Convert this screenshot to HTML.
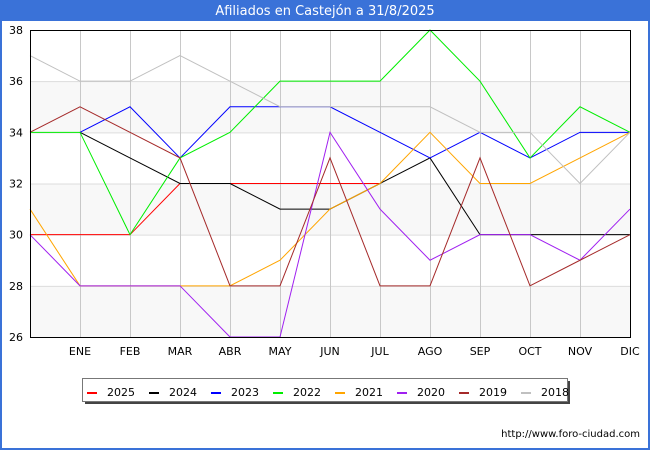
<!DOCTYPE html>
<html><head><meta charset="utf-8"><style>
html,body{margin:0;padding:0;background:#fff;}
body{width:650px;height:450px;overflow:hidden;font-family:"Liberation Sans","DejaVu Sans",sans-serif;}
</style></head><body>
<svg id="chart" width="650" height="450" xmlns="http://www.w3.org/2000/svg" style="display:block">
<rect x="1" y="0" width="648" height="449" fill="#fff" stroke="#3a72d8" stroke-width="2"/>
<rect x="0" y="0" width="650" height="21" fill="#3a72d8"/>
<text x="325" y="15" text-anchor="middle" font-size="13" fill="#fff" font-family="DejaVu Sans, sans-serif">Afiliados en Castejón a 31/8/2025</text>
<g id="grid"></g>
<g id="series"></g>
<rect x="30.5" y="30.5" width="600" height="307" fill="none" stroke="#000" stroke-width="1"/>
<g id="axes" font-size="11" font-family="DejaVu Sans, sans-serif" fill="#000"></g>
<g id="legend"></g>
<text x="640" y="437" text-anchor="end" font-size="10" font-family="DejaVu Sans, sans-serif">http://www.foro-ciudad.com</text>
</svg>
<script>
const categories = ["", "ENE","FEB","MAR","ABR","MAY","JUN","JUL","AGO","SEP","OCT","NOV","DIC"];
const yTicks = [26,28,30,32,34,36,38];
const years = ["2025","2024","2023","2022","2021","2020","2019","2018"];
const colors = ["#ff0000","#000000","#0000ff","#00ee00","#ffa500","#a020f0","#a52a2a","#c0c0c0"];
const s2025 = [30,30,30,32,32,32,32,32,null,null,null,null,null];
const s2024 = [null,34,33,32,32,31,31,32,33,30,30,30,30];
const s2023 = [null,34,35,33,35,35,35,34,33,34,33,34,34];
const s2022 = [34,34,30,33,34,36,36,36,38,36,33,35,34];
const s2021 = [31,28,28,28,28,29,31,32,34,32,32,33,34];
const s2020 = [30,28,28,28,26,26,34,31,29,30,30,29,31];
const s2019 = [34,35,34,33,28,28,33,28,28,33,28,29,30];
const s2018 = [37,36,36,37,36,35,35,35,35,34,34,32,34];
const seriesList = [s2025,s2024,s2023,s2022,s2021,s2020,s2019,s2018];

const NS="http://www.w3.org/2000/svg";
const x0=30,x1=630,y0=337,y1=30,ymin=26,ymax=38;
function xs(i){return x0+i*(x1-x0)/(categories.length-1);}
function ys(v){return y0-(v-ymin)*(y0-y1)/(ymax-ymin);}
function mk(tag,attrs,parent){const e=document.createElementNS(NS,tag);for(const k in attrs)e.setAttribute(k,attrs[k]);parent.appendChild(e);return e;}

const grid=document.getElementById('grid');
for(let k=0;k<yTicks.length-1;k++){
  if(k%2===0){
    const b=mk('rect',{x:x0,y:ys(yTicks[k+1]),width:x1-x0,height:ys(yTicks[k])-ys(yTicks[k+1]),fill:'#f8f8f8'},grid);
    
    
  }
}
yTicks.forEach(v=>{
  const l=mk('line',{x1:x0,x2:x1,y1:ys(v)+0.5,y2:ys(v)+0.5,stroke:'#dddddd','stroke-width':1},grid);
  
  
});
for(let i=1;i<categories.length-1;i++){
  const l=mk('line',{x1:xs(i)+0.5,x2:xs(i)+0.5,y1:y1,y2:y0,stroke:'#c8c8c8','stroke-width':1},grid);
  
  
}
const axes=document.getElementById('axes');
yTicks.forEach(v=>{
  const t=mk('text',{x:23,y:ys(v)+4,'text-anchor':'end'},axes);
  t.textContent=v;
  
  
});
categories.forEach((c,i)=>{
  if(!c)return;
  const t=mk('text',{x:xs(i),y:355,'text-anchor':'middle'},axes);
  t.textContent=c;
  
  
});
const sg=document.getElementById('series');
for(let s=0;s<seriesList.length;s++){
  const d=seriesList[s];let path='';let pen=false;
  d.forEach((v,i)=>{if(v==null){pen=false;return;}path+=(pen?'L':'M')+xs(i)+' '+ys(v)+' ';pen=true;});
  const p=mk('path',{d:path,fill:'none',stroke:colors[s],'stroke-width':1},sg);
  
  
}
const lg=document.getElementById('legend');
mk('rect',{x:85,y:381,width:485,height:23,fill:'#444'},lg);
mk('rect',{x:82.5,y:378.5,width:485,height:23,fill:'#fff',stroke:'#777','stroke-width':1},lg);
years.forEach((y,i)=>{
  const gx=87+i*62;
  const g=mk('g',{},lg);
  
  
  mk('rect',{x:gx,y:392,width:10,height:2,fill:colors[i]},g);
  const t=mk('text',{x:gx+20,y:396,'font-size':11,'font-family':'DejaVu Sans, sans-serif'},g);
  t.textContent=y;
});
</script>
</body></html>
